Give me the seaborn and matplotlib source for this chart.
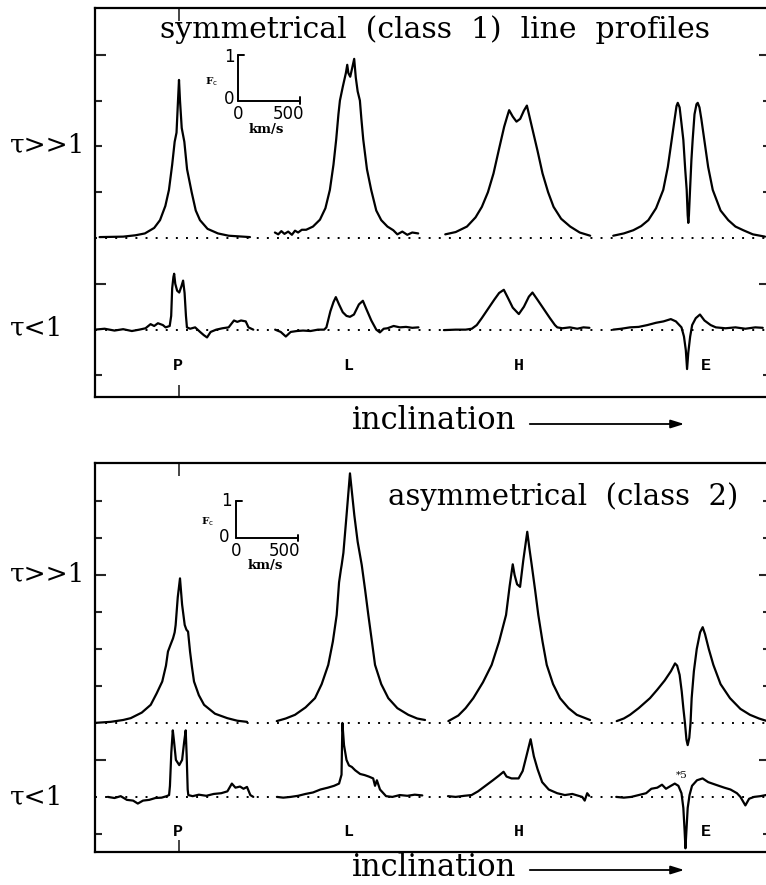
import numpy as np
import pandas as pd
import matplotlib
matplotlib.use("Agg")
import matplotlib.pyplot as plt
import seaborn as sns

sns.set_theme(style="white")
plt.rcParams['font.family'] = ['DejaVu Serif', 'DejaVu Sans']
plt.rcParams['text.color'] = 'black'

W, H = 766, 885
PXV = 8.06  # km/s per pixel

columns = ["P", "L", "H", "E"]
column_centers = [0, 1380, 2730, 4105]

# ---------------- top panel, optically thick (tau>>1) ----------------
sym_thick_P_v = [-640, -450, -350, -275, -200, -153, -110, -81, -55, -35, -20, -8, 0, 8, 22, 43, 65, 102, 135, 169, 230, 314, 400, 572]
sym_thick_P_f = [0.02, 0.03, 0.06, 0.10, 0.22, 0.39, 0.70, 1.05, 1.6, 2.1, 2.3, 3.0, 3.45, 3.0, 2.4, 2.1, 1.5, 1.0, 0.6, 0.39, 0.2, 0.1, 0.05, 0.02]

sym_thick_L_v = [-607, -580, -555, -530, -500, -470, -445, -420, -390, -355, -300, -244, -200, -164, -135, -113, -95, -83, -60, -35, -24, -15, 0, 15, 32, 45, 60, 78, 90, 105, 135, 169, 210, 250, 300, 347, 380, 420, 460, 500, 548]
sym_thick_L_f = [0.12, 0.08, 0.15, 0.09, 0.14, 0.07, 0.16, 0.12, 0.18, 0.18, 0.25, 0.40, 0.65, 1.05, 1.6, 2.15, 2.7, 3.0, 3.3, 3.6, 3.78, 3.6, 3.52, 3.7, 3.91, 3.5, 3.2, 3.0, 2.6, 2.15, 1.5, 1.05, 0.6, 0.39, 0.25, 0.17, 0.08, 0.14, 0.07, 0.12, 0.10]

sym_thick_H_v = [-584, -500, -409, -340, -289, -240, -195, -150, -109, -85, -69, -40, -10, 20, 50, 74, 95, 114, 160, 200, 245, 289, 350, 423, 500, 584]
sym_thick_H_f = [0.08, 0.13, 0.25, 0.45, 0.68, 1.0, 1.41, 1.95, 2.43, 2.65, 2.79, 2.65, 2.54, 2.6, 2.78, 2.89, 2.65, 2.43, 1.9, 1.41, 1.0, 0.68, 0.42, 0.25, 0.12, 0.05]

sym_thick_E_v = [-605, -520, -443, -380, -322, -260, -202, -165, -134, -110, -95, -85, -70, -55, -40, -25, -13, -5, 0, 5, 14, 25, 35, 50, 66, 76, 90, 105, 129, 160, 197, 260, 322, 380, 443, 520, 618]
sym_thick_E_f = [0.05, 0.1, 0.17, 0.26, 0.39, 0.65, 1.05, 1.55, 2.14, 2.6, 2.88, 2.95, 2.85, 2.5, 2.14, 1.5, 1.05, 0.5, 0.33, 0.5, 1.05, 1.7, 2.14, 2.7, 2.92, 2.95, 2.85, 2.6, 2.14, 1.55, 1.05, 0.6, 0.39, 0.25, 0.17, 0.08, 0.03]

# ---------------- top panel, optically thin (tau<1) ----------------
sym_thin_P_v = [-677, -600, -520, -450, -380, -320, -270, -229, -200, -170, -130, -108, -75, -63, -55, -45, -39, -30, -15, 2, 20, 33, 45, 56, 64, 90, 130, 170, 200, 226, 255, 300, 350, 400, 443, 470, 500, 538, 560, 599]
sym_thin_P_f = [0.0, 0.02, -0.02, 0.01, -0.03, 0.0, 0.03, 0.12, 0.08, 0.14, 0.1, 0.05, 0.08, 0.3, 0.9, 1.15, 1.22, 1.0, 0.85, 0.81, 0.95, 1.07, 0.8, 0.3, 0.05, 0.02, 0.05, -0.05, -0.12, -0.17, -0.05, 0.0, 0.03, 0.05, 0.2, 0.17, 0.2, 0.18, 0.05, 0.0]

sym_thin_L_v = [-605, -560, -519, -480, -430, -380, -320, -260, -210, -192, -160, -135, -116, -90, -60, -30, -2, 30, 70, 102, 130, 170, 210, 239, 270, 300, 350, 400, 450, 500, 550]
sym_thin_L_f = [0.0, -0.05, -0.15, -0.05, -0.03, -0.02, -0.03, 0.0, 0.0, 0.05, 0.4, 0.6, 0.71, 0.55, 0.38, 0.3, 0.28, 0.33, 0.55, 0.63, 0.45, 0.2, 0.0, -0.06, 0.02, 0.03, 0.08, 0.05, 0.06, 0.04, 0.05]

sym_thin_H_v = [-595, -500, -420, -370, -330, -290, -240, -190, -150, -112, -80, -40, 9, 50, 90, 119, 160, 210, 260, 300, 319, 360, 420, 480, 530, 578]
sym_thin_H_f = [-0.01, 0.0, 0.0, 0.02, 0.1, 0.25, 0.45, 0.65, 0.8, 0.87, 0.7, 0.48, 0.34, 0.5, 0.72, 0.81, 0.65, 0.45, 0.25, 0.1, 0.05, 0.03, 0.05, 0.02, 0.05, 0.04]

sym_thin_E_v = [-606, -540, -470, -400, -330, -260, -200, -141, -100, -55, -35, -20, -10, 0, 15, 31, 60, 94, 130, 180, 222, 300, 380, 460, 540, 600]
sym_thin_E_f = [0.0, 0.02, 0.05, 0.06, 0.1, 0.15, 0.18, 0.23, 0.18, 0.05, -0.15, -0.45, -0.86, -0.5, -0.15, 0.1, 0.25, 0.33, 0.2, 0.1, 0.05, 0.03, 0.05, 0.02, 0.05, 0.04]

# ---------------- bottom panel, optically thick (tau>>1) ----------------
asym_thick_P_v = [-685, -550, -450, -389, -300, -228, -180, -135, -105, -89, -70, -48, -35, -27, -10, 8, 25, 46, 60, 73, 89, 105, 121, 160, 202, 290, 389, 470, 548]
asym_thick_P_f = [0.0, 0.03, 0.08, 0.13, 0.28, 0.49, 0.8, 1.12, 1.55, 1.93, 2.1, 2.29, 2.45, 2.65, 3.4, 3.91, 3.2, 2.65, 2.52, 2.47, 1.93, 1.5, 1.12, 0.75, 0.49, 0.25, 0.13, 0.06, 0.03]

asym_thick_L_v = [-592, -520, -445, -360, -284, -230, -177, -140, -109, -90, -75, -69, -55, -30, -2, 15, 33, 60, 93, 120, 146, 175, 200, 250, 307, 380, 468, 540, 603]
asym_thick_L_f = [0.05, 0.12, 0.22, 0.42, 0.67, 1.05, 1.57, 2.2, 2.92, 3.8, 4.15, 4.27, 4.6, 5.6, 6.75, 6.2, 5.62, 4.9, 4.27, 3.6, 2.92, 2.2, 1.57, 1.05, 0.67, 0.4, 0.22, 0.12, 0.08]

asym_thick_H_v = [-559, -479, -420, -358, -280, -210, -150, -94, -65, -40, -25, -5, 19, 45, 77, 95, 113, 140, 166, 200, 234, 285, 341, 410, 476, 583]
asym_thick_H_f = [0.05, 0.2, 0.4, 0.67, 1.1, 1.57, 2.2, 2.92, 3.7, 4.29, 4.0, 3.75, 3.68, 4.4, 5.17, 4.7, 4.27, 3.6, 2.92, 2.2, 1.57, 1.05, 0.67, 0.4, 0.22, 0.08]

asym_thick_E_v = [-577, -520, -470, -400, -309, -250, -190, -140, -107, -90, -70, -53, -40, -27, -15, -5, 8, 18, 27, 45, 68, 95, 116, 135, 165, 202, 260, 336, 420, 497, 570, 626]
asym_thick_E_f = [0.05, 0.12, 0.22, 0.4, 0.67, 0.9, 1.15, 1.4, 1.61, 1.55, 1.3, 0.85, 0.4, 0.0, -0.45, -0.6, -0.4, 0.0, 0.67, 1.4, 2.0, 2.45, 2.59, 2.4, 2.0, 1.57, 1.05, 0.67, 0.38, 0.22, 0.12, 0.06]

# ---------------- bottom panel, optically thin (tau<1) ----------------
asym_thin_P_v = [-574, -520, -470, -420, -370, -332, -290, -240, -190, -140, -100, -80, -73, -62, -50, -40, -25, 2, 25, 42, 54, 62, 70, 75, 110, 160, 220, 280, 340, 390, 426, 455, 492, 520, 548, 575, 599]
asym_thin_P_f = [0.0, -0.03, 0.02, -0.08, -0.1, -0.18, -0.1, -0.08, -0.03, -0.02, 0.02, 0.05, 0.3, 1.2, 1.8, 1.5, 1.0, 0.86, 1.0, 1.5, 1.8, 1.1, 0.2, 0.05, 0.02, 0.06, 0.03, 0.08, 0.1, 0.15, 0.36, 0.25, 0.28, 0.22, 0.27, 0.05, 0.0]

asym_thin_L_v = [-591, -540, -480, -420, -360, -300, -240, -180, -130, -90, -70, -63, -50, -30, -10, 13, 40, 80, 116, 150, 185, 200, 215, 240, 289, 340, 400, 460, 520, 581]
asym_thin_L_f = [0.0, -0.02, 0.0, 0.03, 0.08, 0.12, 0.2, 0.25, 0.3, 0.36, 0.6, 2.0, 1.4, 1.0, 0.85, 0.81, 0.72, 0.62, 0.59, 0.55, 0.5, 0.3, 0.45, 0.2, 0.02, 0.0, 0.05, 0.03, 0.06, 0.04]

asym_thin_H_v = [-562, -500, -430, -372, -320, -260, -200, -150, -114, -90, -50, 7, 40, 70, 104, 130, 160, 197, 250, 318, 380, 440, 490, 520, 540, 560, 576]
asym_thin_H_f = [0.02, 0.0, 0.03, 0.05, 0.15, 0.3, 0.45, 0.58, 0.68, 0.55, 0.5, 0.5, 0.7, 1.1, 1.56, 1.1, 0.75, 0.4, 0.2, 0.1, 0.05, 0.08, 0.03, 0.0, -0.1, 0.1, 0.03]

asym_thin_E_v = [-581, -520, -460, -400, -340, -298, -250, -212, -180, -140, -109, -80, -55, -40, -30, -23, -15, -5, 10, 30, 70, 115, 160, 220, 290, 340, 392, 420, 460, 490, 530, 580, 626]
asym_thin_E_f = [0.0, -0.02, 0.0, 0.05, 0.1, 0.22, 0.25, 0.33, 0.22, 0.3, 0.36, 0.3, 0.1, -0.3, -0.9, -1.39, -0.9, -0.3, 0.05, 0.3, 0.45, 0.5, 0.4, 0.33, 0.25, 0.2, 0.1, 0.0, -0.23, -0.05, 0.0, 0.02, 0.05]

# ---------------- assemble long table ----------------
profiles = [
    ("sym", "thick", "P", sym_thick_P_v, sym_thick_P_f), ("sym", "thick", "L", sym_thick_L_v, sym_thick_L_f),
    ("sym", "thick", "H", sym_thick_H_v, sym_thick_H_f), ("sym", "thick", "E", sym_thick_E_v, sym_thick_E_f),
    ("sym", "thin", "P", sym_thin_P_v, sym_thin_P_f), ("sym", "thin", "L", sym_thin_L_v, sym_thin_L_f),
    ("sym", "thin", "H", sym_thin_H_v, sym_thin_H_f), ("sym", "thin", "E", sym_thin_E_v, sym_thin_E_f),
    ("asym", "thick", "P", asym_thick_P_v, asym_thick_P_f), ("asym", "thick", "L", asym_thick_L_v, asym_thick_L_f),
    ("asym", "thick", "H", asym_thick_H_v, asym_thick_H_f), ("asym", "thick", "E", asym_thick_E_v, asym_thick_E_f),
    ("asym", "thin", "P", asym_thin_P_v, asym_thin_P_f), ("asym", "thin", "L", asym_thin_L_v, asym_thin_L_f),
    ("asym", "thin", "H", asym_thin_H_v, asym_thin_H_f), ("asym", "thin", "E", asym_thin_E_v, asym_thin_E_f),
]
row_offset = {"thick": 0.0, "thin": -2.0}
center_of = dict(zip(columns, column_centers))
rows = []
for panel, depth, col, vv, ff in profiles:
    for v, f in zip(vv, ff):
        rows.append(dict(panel=panel, key=f"{panel}-{depth}-{col}",
                         x=center_of[col] + v, y=f + row_offset[depth]))
df = pd.DataFrame(rows)

# ---------------- figure ----------------
fig = plt.figure(figsize=(W / 100, H / 100), dpi=100)

def fpos(x, y):
    return x / W, 1 - y / H

x_left = (95 - 179) * PXV
x_right = (770 - 179) * PXV

ax_top = fig.add_axes([95 / W, 1 - 397 / H, (770 - 95) / W, (397 - 8) / H])
ax_bot = fig.add_axes([95 / W, 1 - 852 / H, (770 - 95) / W, (852 - 463) / H])

panel_cfg = {
    "sym": dict(ax=ax_top, ylim=(-3.47, 5.02), long=[4, -1], short=[3, 2, 1, -3]),
    "asym": dict(ax=ax_bot, ylim=(-3.49, 7.03), long=[4, -1], short=[6, 5, 3, 2, 1, -3]),
}

lw = 1.6
for panel, cfg in panel_cfg.items():
    ax = cfg["ax"]
    ax.set_xlim(x_left, x_right)
    ax.set_ylim(*cfg["ylim"])
    for yb in (0, -2):
        ax.axhline(yb, color="black", lw=1.4, ls=(0, (1, 4.2)), zorder=1)
    sub = df[df.panel == panel]
    sns.lineplot(data=sub, x="x", y="y", units="key", estimator=None, sort=False,
                 color="black", lw=lw, ax=ax, legend=False, zorder=3)
    ax.set_xlabel("")
    ax.set_ylabel("")
    for s in ax.spines.values():
        s.set_color("black")
        s.set_linewidth(1.6)
    ax.set_yticks(cfg["long"])
    ax.set_yticks(cfg["short"], minor=True)
    ax.set_xticks([0])
    ax.set_xticks([], minor=True)
    ax.tick_params(axis="y", which="major", direction="in", length=8, width=1.5,
                   left=True, right=True, labelleft=False)
    ax.tick_params(axis="y", which="minor", direction="in", length=5, width=1.5,
                   left=True, right=True)
    ax.tick_params(axis="x", which="major", direction="in", length=9, width=1.2,
                   top=True, bottom=True, labelbottom=False)
    ax.set_facecolor("white")

# ---------------- scale-bar insets (in data units) ----------------
def scale_bar(ax, x0, y0, tick_dx, tick_dy):
    ax.plot([x0, x0], [y0, y0 + 1], color="black", lw=1.4)
    ax.plot([x0, x0 + 500], [y0, y0], color="black", lw=1.4)
    ax.plot([x0, x0 + tick_dx], [y0 + 1, y0 + 1], color="black", lw=1.4)
    ax.plot([x0 + 500, x0 + 500], [y0 - tick_dy, y0 + tick_dy], color="black", lw=1.4)

scale_bar(ax_top, 476, 3.0, 48, 0.07)
scale_bar(ax_bot, 460, 5.0, 48, 0.08)

small = dict(fontsize=12, family=["DejaVu Sans"], ha="center", va="center", color="black")
fig.text(*fpos(229, 57), "1", **small)
fig.text(*fpos(229, 99), "0", **small)
fig.text(*fpos(211, 82), r"F$_\mathrm{c}$", fontsize=7.5, fontweight="bold", ha="center", va="center")
fig.text(*fpos(238, 114), "0", **small)
fig.text(*fpos(288, 114), "500", **small)
fig.text(*fpos(266, 129), "km/s", fontsize=9.5, fontweight="bold", ha="center", va="center")

fig.text(*fpos(226, 501), "1", **small)
fig.text(*fpos(224, 537), "0", **small)
fig.text(*fpos(207, 522), r"F$_\mathrm{c}$", fontsize=7.5, fontweight="bold", ha="center", va="center")
fig.text(*fpos(236, 551), "0", **small)
fig.text(*fpos(285, 551), "500", **small)
fig.text(*fpos(265, 566), "km/s", fontsize=9.5, fontweight="bold", ha="center", va="center")

# ---------------- titles and labels ----------------
fig.text(*fpos(435, 30), "symmetrical  (class  1)  line  profiles", fontsize=21.5,
         ha="center", va="center")
fig.text(*fpos(563, 497), "asymmetrical  (class  2)", fontsize=21,
         ha="center", va="center")

for yc_thick, yc_thin in ((145, 328), (574, 797)):
    fig.text(*fpos(48, yc_thick), "τ>>1", fontsize=19, ha="center", va="center")
    fig.text(*fpos(37, yc_thin), "τ<1", fontsize=19, ha="center", va="center")

letter_x = [178, 348, 519, 706]
for yl in (366, 832):
    for lab, lx in zip(columns, letter_x):
        fig.text(*fpos(lx, yl), lab, fontsize=12, fontweight="bold", ha="center", va="center",
                 family=["Liberation Mono", "DejaVu Sans Mono"])

fig.text(*fpos(682, 775), "*5", fontsize=7.5, ha="center", va="center")

for ty, ay in ((420, 424), (867, 870)):
    fig.text(*fpos(434, ty), "inclination", fontsize=22, ha="center", va="center")
    fig.add_artist(matplotlib.patches.FancyArrowPatch(
        fpos(527, ay), fpos(687, ay), transform=fig.transFigure,
        arrowstyle="-|>,head_length=8,head_width=2.5", lw=1.3, color="black"))

fig.savefig("out.png", dpi=100, facecolor="white")
